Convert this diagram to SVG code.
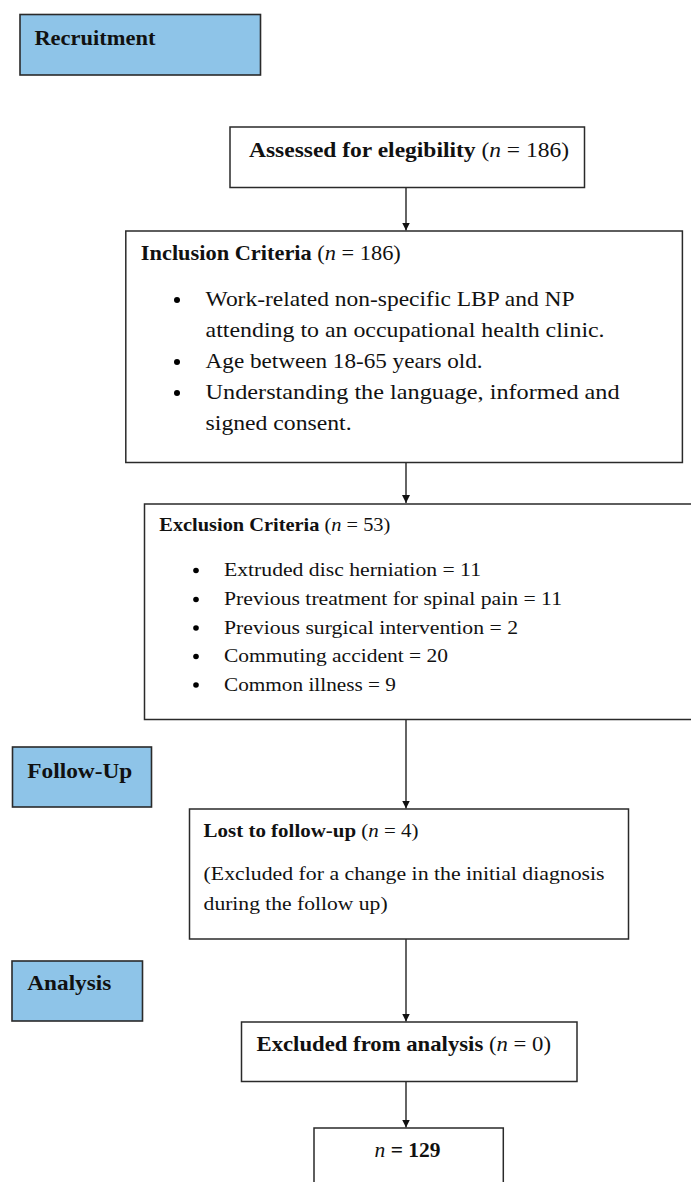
<svg xmlns="http://www.w3.org/2000/svg" width="691" height="1182" viewBox="0 0 691 1182">
<style>
.box{fill:#fff;stroke:#2a2a2a;stroke-width:1.5}
.phase{fill:#8EC4E8;stroke:#2a2a2a;stroke-width:1.6}
.t{font-family:"Liberation Serif","Times New Roman",serif;fill:#111}
.b{font-weight:bold}
.i{font-style:italic;font-weight:normal}
.n{font-weight:normal}
.h{font-size:21px}
.s{font-size:19px}
.sh{font-size:19px}
.p{font-size:21px}
.conn{stroke:#111;stroke-width:1.3;fill:none}
</style>
<defs>
<marker id="ah" viewBox="0 0 10 10" refX="10" refY="5" markerWidth="8" markerHeight="8" markerUnits="userSpaceOnUse" orient="auto">
<path d="M0,0 L10,5 L0,10 z" fill="#111"/>
</marker>
</defs>

<g id="connectors">
<line class="conn" x1="406" y1="187.5" x2="406" y2="230.5" marker-end="url(#ah)"/>
<line class="conn" x1="406" y1="462.5" x2="406" y2="503" marker-end="url(#ah)"/>
<line class="conn" x1="406" y1="719.5" x2="406" y2="808.5" marker-end="url(#ah)"/>
<line class="conn" x1="406" y1="939" x2="406" y2="1021.5" marker-end="url(#ah)"/>
<line class="conn" x1="406" y1="1081.5" x2="406" y2="1127.5" marker-end="url(#ah)"/>
</g>

<g id="recruitment">
<rect class="phase" x="20" y="14.5" width="240.5" height="60.5"/>
<text class="t b h" x="34.4" y="45" textLength="121" lengthAdjust="spacingAndGlyphs">Recruitment</text>
</g>

<g id="assessed">
<rect class="box" x="230" y="127" width="354.5" height="60.5"/>
<text class="t b h" x="249" y="157" textLength="320" lengthAdjust="spacingAndGlyphs">Assessed for elegibility <tspan class="n">(</tspan><tspan class="i">n</tspan><tspan class="n"> = 186)</tspan></text>
</g>

<g id="inclusion">
<rect class="box" x="125.8" y="231" width="556.6" height="231.5"/>
<text class="t b h" x="140.8" y="260" textLength="260" lengthAdjust="spacingAndGlyphs">Inclusion Criteria <tspan class="n">(</tspan><tspan class="i">n</tspan><tspan class="n"> = 186)</tspan></text>
<circle cx="177" cy="300" r="3"/>
<text class="t p" x="205.6" y="306" textLength="369" lengthAdjust="spacingAndGlyphs">Work-related non-specific LBP and NP</text>
<text class="t p" x="205.6" y="337" textLength="399" lengthAdjust="spacingAndGlyphs">attending to an occupational health clinic.</text>
<circle cx="177" cy="362" r="3"/>
<text class="t p" x="205.6" y="368" textLength="277" lengthAdjust="spacingAndGlyphs">Age between 18-65 years old.</text>
<circle cx="177" cy="393" r="3"/>
<text class="t p" x="205.6" y="399" textLength="414" lengthAdjust="spacingAndGlyphs">Understanding the language, informed and</text>
<text class="t p" x="205.6" y="430" textLength="146" lengthAdjust="spacingAndGlyphs">signed consent.</text>
</g>

<g id="exclusion">
<rect class="box" x="144.5" y="504" width="560" height="215.5"/>
<text class="t b sh" x="159.3" y="531" textLength="231" lengthAdjust="spacingAndGlyphs">Exclusion Criteria <tspan class="n">(</tspan><tspan class="i">n</tspan><tspan class="n"> = 53)</tspan></text>
<circle cx="196" cy="570.5" r="2.8"/>
<text class="t s" x="224" y="576" textLength="257" lengthAdjust="spacingAndGlyphs">Extruded disc herniation = 11</text>
<circle cx="196" cy="599.5" r="2.8"/>
<text class="t s" x="224" y="605" textLength="338" lengthAdjust="spacingAndGlyphs">Previous treatment for spinal pain = 11</text>
<circle cx="196" cy="628" r="2.8"/>
<text class="t s" x="224" y="633.5" textLength="294" lengthAdjust="spacingAndGlyphs">Previous surgical intervention = 2</text>
<circle cx="196" cy="656.5" r="2.8"/>
<text class="t s" x="224" y="662" textLength="224" lengthAdjust="spacingAndGlyphs">Commuting accident = 20</text>
<circle cx="196" cy="685" r="2.8"/>
<text class="t s" x="224" y="690.5" textLength="172" lengthAdjust="spacingAndGlyphs">Common illness = 9</text>
</g>

<g id="followup">
<rect class="phase" x="12.5" y="747" width="139" height="60"/>
<text class="t b h" x="27.3" y="777.5" textLength="105" lengthAdjust="spacingAndGlyphs">Follow-Up</text>
</g>

<g id="lost">
<rect class="box" x="189.5" y="809" width="439" height="130"/>
<text class="t b sh" x="203.6" y="836.5" textLength="215" lengthAdjust="spacingAndGlyphs">Lost to follow-up <tspan class="n">(</tspan><tspan class="i">n</tspan><tspan class="n"> = 4)</tspan></text>
<text class="t s" x="203.6" y="880" textLength="401" lengthAdjust="spacingAndGlyphs">(Excluded for a change in the initial diagnosis</text>
<text class="t s" x="203.6" y="909.5" textLength="184" lengthAdjust="spacingAndGlyphs">during the follow up)</text>
</g>

<g id="analysis">
<rect class="phase" x="12" y="961" width="130.5" height="60"/>
<text class="t b h" x="27.3" y="990" textLength="84" lengthAdjust="spacingAndGlyphs">Analysis</text>
</g>

<g id="excluded">
<rect class="box" x="241.5" y="1022" width="335.5" height="59.5"/>
<text class="t b h" x="256.5" y="1051" textLength="294.5" lengthAdjust="spacingAndGlyphs">Excluded from analysis <tspan class="n">(</tspan><tspan class="i">n</tspan><tspan class="n"> = 0)</tspan></text>
</g>

<g id="final">
<rect class="box" x="314" y="1128" width="189.3" height="70"/>
<text class="t b h" x="374.6" y="1157" textLength="66" lengthAdjust="spacingAndGlyphs"><tspan class="i">n</tspan> = 129</text>
</g>
</svg>
